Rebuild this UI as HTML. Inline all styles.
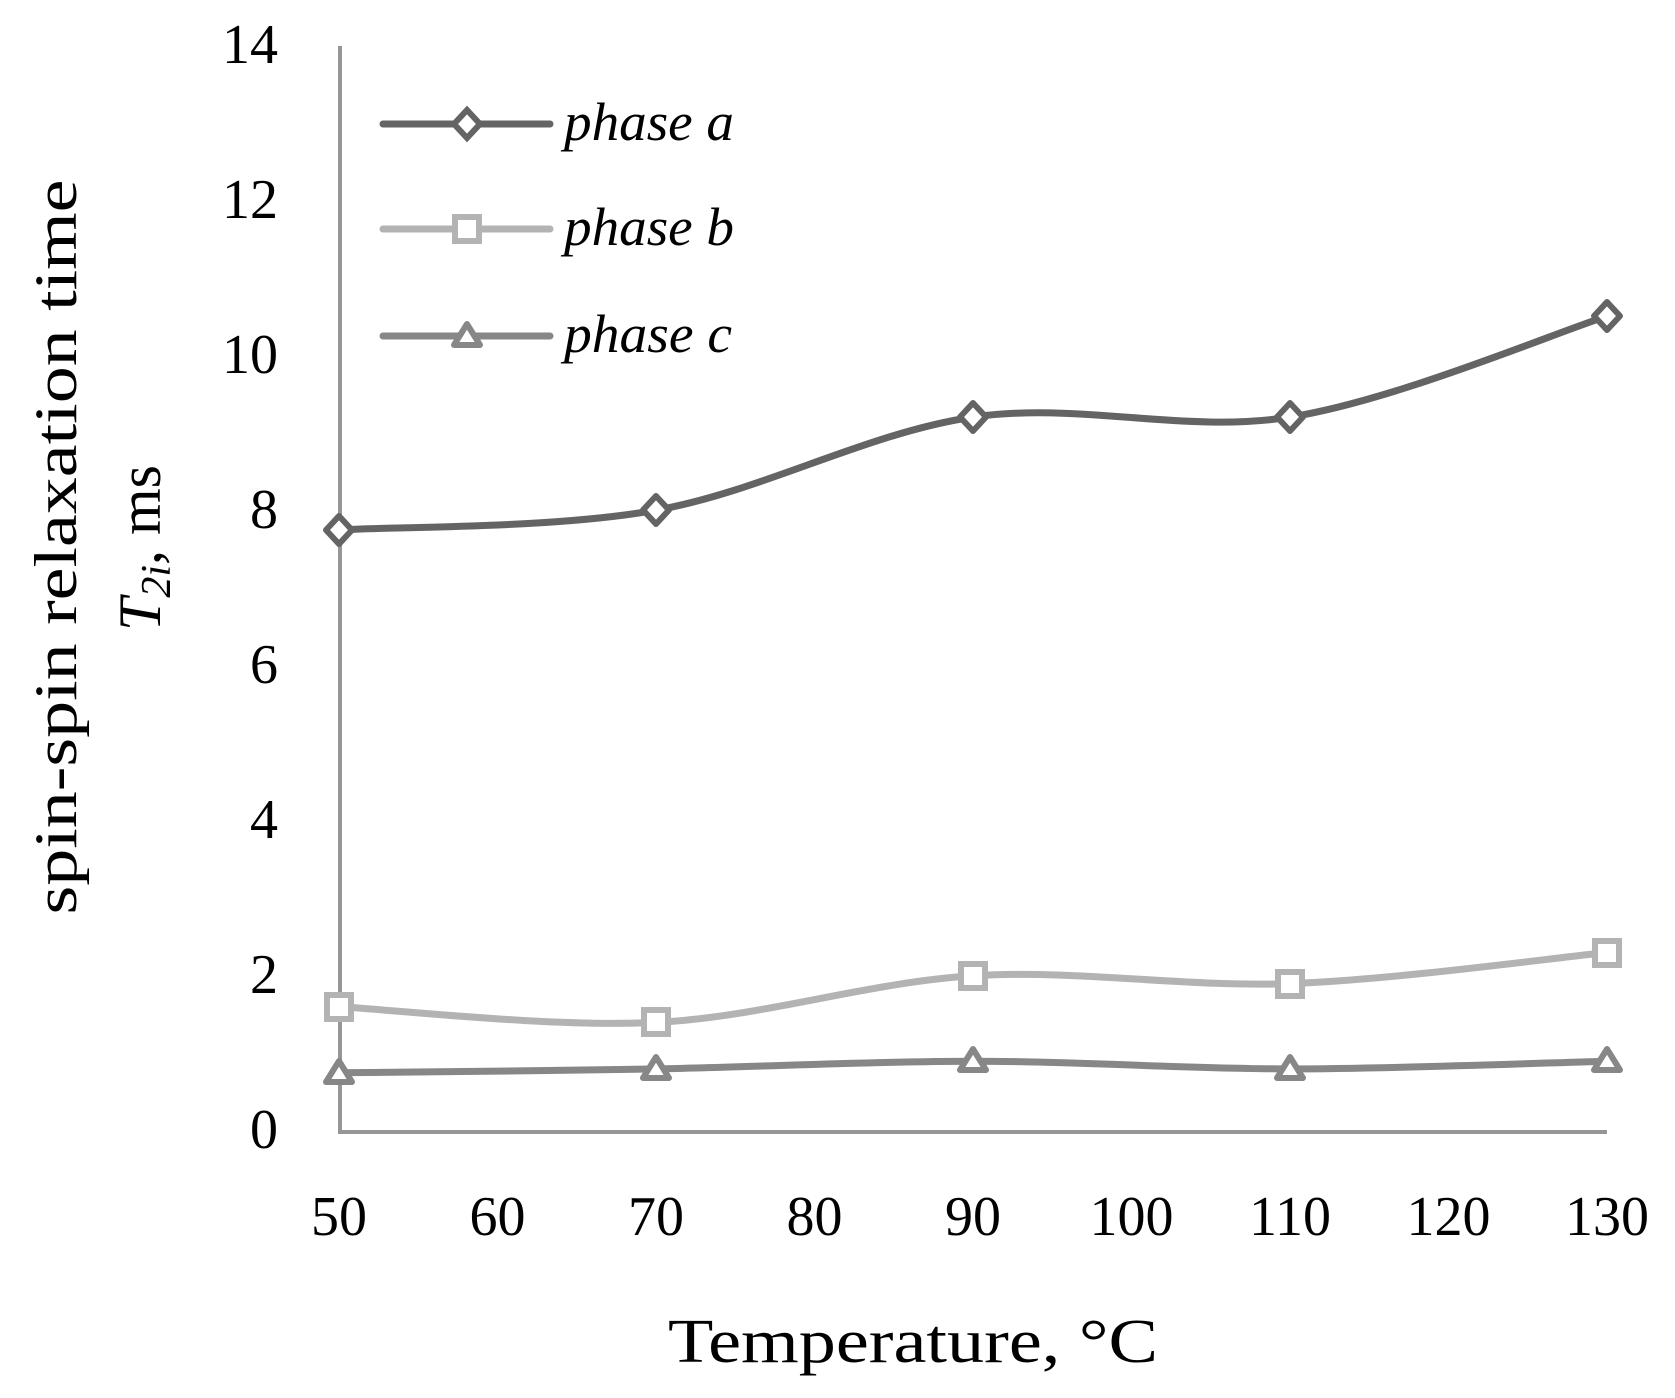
<!DOCTYPE html>
<html><head><style>body{margin:0;background:#fff}svg{display:block}</style></head>
<body>
<svg width="1675" height="1398" viewBox="0 0 1675 1398" xmlns="http://www.w3.org/2000/svg" font-family="Liberation Serif, serif">
<rect width="1675" height="1398" fill="#fff"/>
<line x1="340" y1="46" x2="340" y2="1133" stroke="#969696" stroke-width="4"/>
<line x1="338" y1="1132" x2="1607" y2="1132" stroke="#969696" stroke-width="4"/>
<g font-size="56" text-anchor="end" fill="#000">
<text x="278" y="63">14</text><text x="278" y="218">12</text><text x="278" y="373">10</text>
<text x="278" y="528">8</text><text x="278" y="683">6</text><text x="278" y="838">4</text>
<text x="278" y="993">2</text><text x="278" y="1148">0</text>
</g>
<g font-size="56" text-anchor="middle" fill="#000">
<text x="339" y="1235">50</text><text x="497.5" y="1235">60</text><text x="656" y="1235">70</text>
<text x="814.5" y="1235">80</text><text x="973" y="1235">90</text><text x="1131.5" y="1235">100</text>
<text x="1290" y="1235">110</text><text x="1448.5" y="1235">120</text><text x="1607" y="1235">130</text>
</g>
<text x="668" y="1362" font-size="62" textLength="490" lengthAdjust="spacingAndGlyphs">Temperature, °C</text>
<text transform="translate(76,547) rotate(-90)" text-anchor="middle" font-size="60" textLength="735" lengthAdjust="spacingAndGlyphs">spin-spin relaxation time</text>
<text transform="translate(160,548) rotate(-90)" text-anchor="middle" font-size="60"><tspan font-style="italic">T</tspan><tspan font-style="italic" font-size="42" dy="10">2i</tspan><tspan dy="-10">, ms</tspan></text>

<g fill="none" stroke-width="7" stroke-linecap="round">
<path stroke="#878787" d="M339,1072.8 C391.8,1072.2 550.3,1070.8 656,1068.9 C761.7,1067 867.3,1061.2 973,1061.2 C1078.7,1061.2 1184.3,1068.9 1290,1068.9 C1395.7,1068.9 1554.2,1062.5 1607,1061.2"/>
<path stroke="#b3b3b3" d="M339,1006.8 C391.8,1009.4 550.3,1027.6 656,1022.4 C761.7,1017.2 867.3,982.3 973,975.8 C1078.7,969.3 1184.3,987.5 1290,983.6 C1395.7,979.7 1554.2,957.7 1607,952.5"/>
<path stroke="#646464" d="M339,530 C391.8,526.4 550.3,529 656,510.2 C761.7,491.5 867.3,432.6 973,417.1 C1078.7,401.6 1184.3,433.9 1290,417.1 C1395.7,400.3 1554.2,333 1607,316.2"/>
</g>
<g fill="#fff" stroke="#646464" stroke-width="6" stroke-linejoin="round">
<path d="M339,516 L352,530 L339,544 L326,530Z"/><path d="M656,496 L669,510 L656,524 L643,510Z"/>
<path d="M973,403 L986,417 L973,431 L960,417Z"/><path d="M1290,403 L1303,417 L1290,431 L1277,417Z"/>
<path d="M1607,302 L1620,316 L1607,330 L1594,316Z"/>
</g>
<g fill="#fff" stroke="#b3b3b3" stroke-width="6">
<rect x="327" y="995" width="24" height="24"/><rect x="644" y="1010" width="24" height="24"/>
<rect x="961" y="964" width="24" height="24"/><rect x="1278" y="972" width="24" height="24"/>
<rect x="1595" y="941" width="24" height="24"/>
</g>
<g fill="#fff" stroke="#878787" stroke-width="6" stroke-linejoin="round">
<path d="M339,1061 L352,1082 L326,1082Z"/><path d="M656,1057 L669,1078 L643,1078Z"/>
<path d="M973,1049 L986,1070 L960,1070Z"/><path d="M1290,1057 L1303,1078 L1277,1078Z"/>
<path d="M1607,1049 L1620,1070 L1594,1070Z"/>
</g>

<g stroke-width="7" stroke-linecap="round">
<line x1="383" y1="124" x2="550" y2="124" stroke="#646464"/>
<line x1="383" y1="229" x2="550" y2="229" stroke="#b3b3b3"/>
<line x1="383" y1="336" x2="550" y2="336" stroke="#878787"/>
</g>
<path d="M467,110 L480,124 L467,138 L454,124Z" fill="#fff" stroke="#646464" stroke-width="6"/>
<rect x="455" y="217" width="24" height="24" fill="#fff" stroke="#b3b3b3" stroke-width="6"/>
<path d="M467,324 L480,345 L454,345Z" fill="#fff" stroke="#878787" stroke-width="6" stroke-linejoin="round"/>
<g font-size="54" font-style="italic" fill="#000">
<text x="564" y="140" textLength="170" lengthAdjust="spacingAndGlyphs">phase a</text>
<text x="564" y="245" textLength="170" lengthAdjust="spacingAndGlyphs">phase b</text>
<text x="564" y="352" textLength="168" lengthAdjust="spacingAndGlyphs">phase c</text>
</g>
</svg>
</body></html>
